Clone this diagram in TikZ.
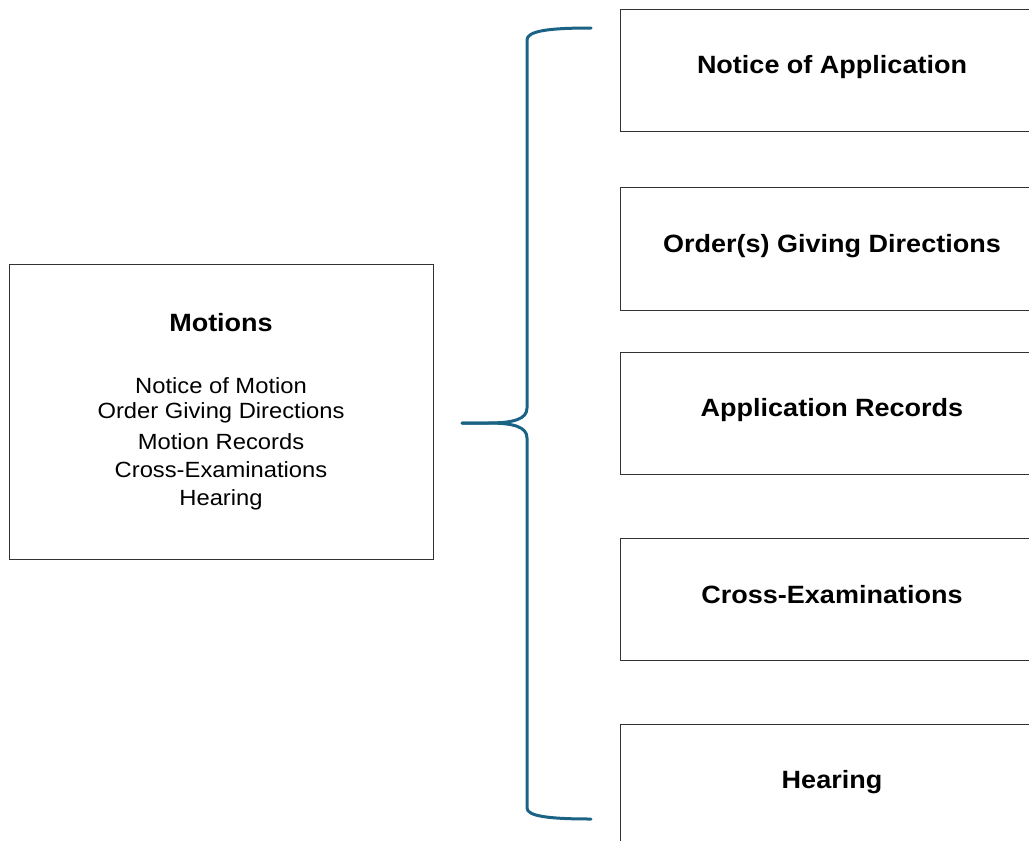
\documentclass[tikz,border=0pt]{standalone}
\usepackage{fontspec}
\setmainfont{Liberation Sans}
\newfontfamily\lab{Liberation Sans}[FakeStretch=1.08]
\definecolor{bracecol}{RGB}{27,99,133}
\definecolor{framecol}{RGB}{50,50,50}
\begin{document}
\begin{tikzpicture}[x=1pt,y=-1pt,
  framebox/.style={draw=framecol,line width=1pt},
  headtext/.style={font=\lab\bfseries\fontsize{25}{29}\selectfont,inner sep=0pt},
  itemtext/.style={font=\lab\fontsize{22}{28.5}\selectfont,inner sep=0pt},
  bracepath/.style={draw=bracecol,line width=3pt,line cap=round}]
\useasboundingbox (0,0) rectangle (1029,841);
\clip (0,0) rectangle (1029,841);

% left summary box
\draw[framebox] (9,264) rectangle (433,559);
\node[headtext] (motions) at (221,323) {Motions};
\node[itemtext] (m1) at (221,386) {Notice of Motion};
\node[itemtext] (m2) at (221,413) {Order Giving Directions};
\node[itemtext] (m3) at (221,442) {Motion Records};
\node[itemtext] (m4) at (221,470) {Cross-Examinations};
\node[itemtext] (m5) at (221,500) {Hearing};

% right column of steps
\draw[framebox] (620,9) rectangle (1040,131);
\draw[framebox] (620,187) rectangle (1040,310);
\draw[framebox] (620,352) rectangle (1040,474);
\draw[framebox] (620,538) rectangle (1040,660);
\draw[framebox] (620,724) rectangle (1040,850);
\node[headtext] (s1) at (832,67) {Notice of Application};
\node[headtext] (s2) at (832,246) {Order(s) Giving Directions};
\node[headtext] (s3) at (832,410) {Application Records};
\node[headtext] (s4) at (832,595) {Cross-Examinations};
\node[headtext] (s5) at (832,782) {Hearing};

% curly brace joining the two sides
\coordinate (btop) at (591,28);
\coordinate (bmid) at (462,423);
\coordinate (bbot) at (591,819);
\path[bracepath] (btop) .. controls (548,28) and (527,31) .. (527,40)
  -- (527,408) .. controls (527,419) and (514,423) .. (488,423) -- (bmid);
\path[bracepath] (bmid) -- (488,423) .. controls (514,423) and (527,427) .. (527,438)
  -- (527,808) .. controls (527,816) and (548,819) .. (bbot);
\end{tikzpicture}
\end{document}
